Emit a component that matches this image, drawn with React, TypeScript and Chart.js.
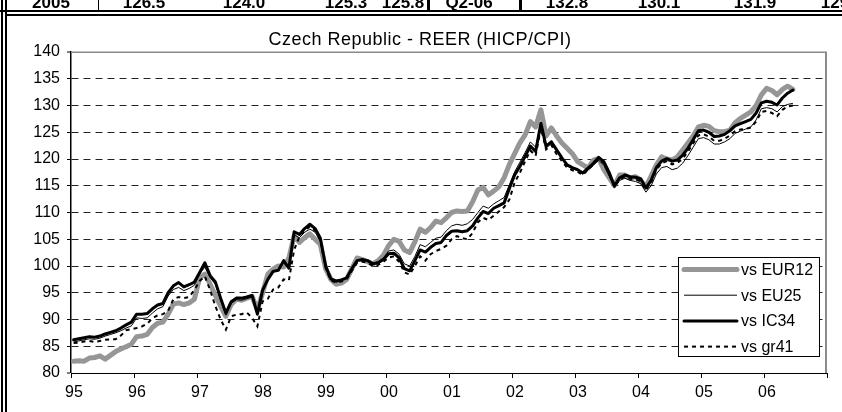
import React, { useEffect, useRef } from 'react';
import { Chart, registerables } from 'chart.js';

Chart.register(...registerables);

const FONT = "'Liberation Sans', Arial, sans-serif";

const TITLE = 'Czech Republic - REER (HICP/CPI)';
const YEAR_LABELS = ['95', '96', '97', '98', '99', '00', '01', '02', '03', '04', '05', '06'];
const SERIES_NAMES = ['vs EUR12', 'vs EU25', 'vs IC34', 'vs gr41'];

// header row of the table above the chart (partly cut off)
const TABLE_CELLS = ['2005', '126.5', '124.0', '125.3', '125.8', 'Q2-06', '132.8', '130.1', '131.9', '129.6'];
const TABLE_CENTERS = [51, 144, 244, 346, 403, 469, 567, 659, 755, 842];
const TABLE_SEPARATORS = [[98, 1], [427, 2.5], [519, 2.5]];

// monthly values, Jan 1995 .. Jun 2006
const EUR12 = [
  82.2, 82.3, 82.2, 82.8, 82.9, 83.2, 82.6, 83.3, 84.0, 84.5, 84.9, 85.4,
  86.8, 86.9, 87.2, 88.5, 89.3, 89.5, 91.0, 92.9, 93.1, 92.8, 93.1, 93.8,
  97.8, 98.5, 96.6, 94.5, 92.5, 90.6, 92.8, 93.8, 93.6, 94.0, 94.3, 91.8,
  95.0, 98.5, 99.4, 100.0, 99.8, 101.5, 105.6, 104.4, 105.3, 106.0, 105.0, 104.0,
  99.5, 97.5, 96.6, 96.8, 97.5, 99.5, 101.5, 101.2, 100.8, 100.4, 101.0, 102.0,
  103.8, 105.0, 104.6, 103.0, 102.5, 104.5, 106.9, 106.3, 107.2, 108.4, 108.1, 109.0,
  110.0, 110.3, 110.2, 110.3, 112.0, 114.2, 114.7, 113.3, 114.0, 114.8, 116.5, 119.0,
  121.0, 123.0, 124.5, 127.0, 126.0, 129.2, 124.3, 125.8, 124.3, 123.0, 122.0, 121.0,
  119.5, 118.9, 118.3, 119.8, 120.1, 118.0, 116.5, 115.0, 117.0, 117.0, 116.4, 116.7,
  116.0, 114.8, 116.8, 118.9, 120.4, 120.0, 119.8, 120.4, 121.7, 123.0, 124.3, 126.0,
  126.3, 126.1, 125.3, 125.1, 125.1, 125.4, 126.8, 127.6, 128.2, 128.8, 130.0, 132.0,
  133.2, 132.8, 132.0, 133.0, 133.6, 133.0,
];

const EU25 = [
  85.8, 86.0, 86.2, 86.4, 86.3, 86.5, 86.9, 87.2, 87.5, 87.9, 88.4, 88.8,
  90.3, 90.2, 90.3, 91.2, 92.0, 92.4, 94.4, 95.6, 96.0, 95.4, 95.8, 96.4,
  98.5, 99.8, 97.8, 96.6, 93.6, 90.8, 93.0, 93.7, 93.6, 93.9, 94.2, 90.8,
  95.2, 97.5, 98.8, 99.2, 100.6, 99.4, 105.8, 105.3, 106.3, 106.9, 106.3, 104.6,
  99.6, 97.4, 97.0, 97.3, 97.8, 99.5, 101.0, 101.2, 101.0, 100.5, 100.8, 101.5,
  102.8, 103.0, 102.2, 100.4, 100.0, 101.8, 104.0, 103.6, 104.4, 105.2, 105.4, 106.6,
  107.5, 107.8, 107.6, 107.9, 108.7, 110.0, 111.2, 110.8, 111.6, 112.2, 112.8, 115.2,
  117.6, 119.4, 121.2, 123.2, 122.2, 126.6, 122.6, 123.4, 121.8, 120.2, 118.7, 118.2,
  117.8, 117.2, 118.0, 118.8, 119.8, 118.8, 116.8, 114.6, 116.0, 116.4, 116.0, 115.8,
  115.4, 113.8, 115.0, 117.2, 118.4, 118.6, 118.0, 118.3, 119.2, 120.6, 122.2, 123.8,
  124.0, 123.6, 122.8, 122.8, 123.2, 123.8, 124.8, 125.2, 125.6, 126.0, 127.3, 129.4,
  129.6, 129.4, 128.8, 129.8, 130.2, 130.4,
];

const IC34 = [
  86.2, 86.4, 86.6, 86.8, 86.7, 86.9, 87.3, 87.6, 87.9, 88.4, 89.0, 89.5,
  91.0, 91.0, 91.1, 92.0, 92.7, 93.0, 95.0, 96.3, 96.9, 96.1, 96.5, 97.0,
  98.8, 100.6, 98.2, 97.0, 94.0, 91.2, 93.3, 94.0, 94.0, 94.2, 94.5, 91.0,
  95.5, 97.5, 99.0, 99.2, 101.0, 99.6, 106.4, 105.9, 107.0, 107.8, 107.0, 105.2,
  100.0, 97.6, 97.2, 97.4, 97.8, 99.5, 101.0, 101.2, 101.0, 100.4, 100.6, 101.2,
  102.3, 102.4, 101.5, 99.5, 99.1, 101.0, 103.0, 102.6, 103.5, 104.2, 104.4, 105.7,
  106.5, 106.6, 106.4, 106.6, 107.5, 109.0, 110.2, 109.8, 110.8, 111.3, 111.8, 114.5,
  117.0, 118.6, 120.5, 122.4, 121.4, 126.7, 122.3, 123.2, 121.7, 120.2, 118.9, 118.4,
  118.0, 117.4, 118.3, 119.2, 120.3, 119.5, 117.5, 115.0, 116.5, 117.0, 116.7, 116.6,
  116.3, 114.6, 116.0, 118.4, 119.6, 120.1, 119.6, 119.8, 120.7, 122.0, 123.6, 125.3,
  125.4, 125.0, 124.2, 124.3, 124.6, 125.3, 126.2, 126.6, 127.0, 127.4, 128.6, 130.5,
  130.8, 130.6, 130.1, 131.4, 132.3, 132.9,
];

const GR41 = [
  85.6, 85.7, 85.9, 86.0, 85.8, 86.0, 86.2, 86.3, 86.3, 87.0, 88.0, 88.2,
  88.4, 88.7, 89.2, 90.2, 90.8, 91.0, 91.6, 93.8, 94.2, 94.0, 94.2, 95.5,
  97.2, 98.1, 95.5, 92.5, 90.0, 88.1, 90.6, 90.9, 91.0, 91.3, 90.3, 88.7,
  93.4, 93.9, 95.6, 96.0, 97.5, 97.3, 103.0, 105.5, 106.6, 107.4, 106.6, 104.8,
  99.6, 97.3, 96.9, 97.1, 97.5, 99.1, 100.6, 100.8, 100.6, 100.0, 100.2, 100.8,
  101.6, 101.8, 100.8, 98.8, 98.4, 100.0, 101.8, 101.0, 102.2, 102.8, 103.2, 103.8,
  105.0, 105.6, 105.2, 105.0, 106.2, 108.2, 109.0, 108.6, 109.4, 110.2, 111.0, 112.4,
  115.6, 117.4, 119.6, 121.6, 120.6, 125.8, 121.8, 122.6, 120.9, 119.6, 118.4, 117.9,
  117.6, 117.0, 118.0, 119.0, 120.0, 119.2, 117.2, 114.8, 116.2, 116.7, 116.3, 116.2,
  115.8, 114.2, 115.6, 118.0, 119.2, 119.6, 119.0, 119.3, 120.0, 121.4, 122.9, 124.4,
  124.6, 124.2, 123.4, 123.4, 123.8, 124.4, 125.2, 125.5, 125.6, 125.9, 127.0, 128.8,
  129.0, 128.6, 128.0, 129.2, 129.8, 130.0,
];

const toPoints = (arr: number[]) => arr.map((v, i) => ({ x: i + 0.5, y: v }));

const decorPlugin = {
  id: 'decor',
  beforeDatasetsDraw(chart: any) {
    const { ctx, chartArea: a } = chart;
    ctx.save();
    ctx.strokeStyle = '#8a8a8a';
    ctx.lineWidth = 1.5;
    ctx.beginPath();
    ctx.moveTo(a.left, a.top + 0.25);
    ctx.lineTo(a.right, a.top + 0.25);
    ctx.stroke();
    ctx.lineWidth = 2;
    ctx.beginPath();
    ctx.moveTo(a.right - 1, a.top);
    ctx.lineTo(a.right - 1, a.bottom);
    ctx.stroke();
    ctx.restore();
  },
  afterDraw(chart: any) {
    const { ctx, chartArea: a } = chart;
    ctx.save();
    // title
    ctx.fillStyle = '#000';
    ctx.font = `18px ${FONT}`;
    try { (ctx as any).letterSpacing = '0.5px'; } catch (e) { /* ignore */ }
    ctx.textAlign = 'center';
    ctx.textBaseline = 'alphabetic';
    ctx.fillText(TITLE, 420, a.top - 7);
    try { (ctx as any).letterSpacing = '0px'; } catch (e) { /* ignore */ }

    // legend box
    const w = 142, h = 100;
    const x0 = a.right - 7 - w;
    const y0 = a.bottom - 16 - h;
    ctx.fillStyle = '#fff';
    ctx.fillRect(x0, y0, w, h);
    ctx.strokeStyle = '#000';
    ctx.lineWidth = 1;
    ctx.strokeRect(x0 + 0.5, y0 + 0.5, w - 1, h - 1);
    chart.data.datasets.forEach((ds: any, i: number) => {
      const yy = y0 + 12.5 + i * 25.7;
      ctx.save();
      ctx.strokeStyle = ds.borderColor;
      ctx.lineWidth = ds.borderWidth;
      ctx.lineCap = ds.borderWidth >= 3 ? 'round' : 'butt';
      ctx.setLineDash(ds.borderDash || []);
      ctx.beginPath();
      ctx.moveTo(x0 + 6, yy);
      ctx.lineTo(x0 + 59, yy);
      ctx.stroke();
      ctx.restore();
      ctx.fillStyle = '#000';
      ctx.font = `16px ${FONT}`;
      ctx.textAlign = 'left';
      ctx.textBaseline = 'middle';
      ctx.fillText(ds.label, x0 + 63, yy + 1);
    });
    ctx.restore();
  },
};

export default function App() {
  const ref = useRef<HTMLCanvasElement | null>(null);

  useEffect(() => {
    if (!ref.current) return;
    const chart = new Chart(ref.current, {
      type: 'line',
      data: {
        datasets: [
          {
            label: SERIES_NAMES[0], data: toPoints(EUR12), borderColor: '#969696', borderWidth: 5,
            pointRadius: 0, order: 4, borderCapStyle: 'round', borderJoinStyle: 'round', tension: 0,
          },
          {
            label: SERIES_NAMES[1], data: toPoints(EU25), borderColor: '#000000', borderWidth: 1,
            pointRadius: 0, order: 3, tension: 0,
          },
          {
            label: SERIES_NAMES[2], data: toPoints(IC34), borderColor: '#000000', borderWidth: 3,
            pointRadius: 0, order: 2, borderCapStyle: 'round', borderJoinStyle: 'round', tension: 0,
          },
          {
            label: SERIES_NAMES[3], data: toPoints(GR41), borderColor: '#000000', borderWidth: 2,
            borderDash: [4, 4], pointRadius: 0, order: 1, tension: 0,
          },
        ] as any,
      },
      options: {
        animation: false,
        responsive: false,
        maintainAspectRatio: false,
        events: [],
        layout: { padding: { left: 0, right: 15, top: 52, bottom: 0 } },
        plugins: { legend: { display: false }, title: { display: false }, tooltip: { enabled: false } },
        scales: {
          x: {
            type: 'linear',
            min: 0,
            max: 144,
            afterFit: (s: any) => { s.height = 39; },
            ticks: {
              stepSize: 12,
              autoSkip: false,
              maxRotation: 0,
              labelOffset: 3,
              padding: 5,
              color: '#000',
              font: { family: FONT, size: 16 },
              callback: (v: any) => {
                const idx = Math.round(Number(v) / 12);
                return YEAR_LABELS[idx] ?? '';
              },
            },
            grid: { drawOnChartArea: false, drawTicks: true, tickLength: 5, tickColor: '#000', tickWidth: 1, color: '#000' },
            border: { display: true, color: '#000', width: 1 },
          },
          y: {
            min: 80,
            max: 140,
            afterFit: (s: any) => { s.width = 71; },
            ticks: { stepSize: 5, padding: 7, color: '#000', font: { family: FONT, size: 16 } },
            grid: {
              color: '#222',
              lineWidth: (c: any) => (c.tick && (c.tick.value === 140 || c.tick.value === 80) ? 0 : 1),
              tickLength: 4,
              tickWidth: 1,
              tickColor: '#000',
            },
            border: { display: true, color: '#000', width: 1.5, dash: [7, 5] },
          },
        },
      } as any,
      plugins: [decorPlugin],
    });
    return () => chart.destroy();
  }, []);

  return (
    <div style={{ position: 'absolute', left: 0, top: 0, width: 842, height: 412, background: '#fff', overflow: 'hidden' }}>
      <canvas ref={ref} width={842} height={412} style={{ position: 'absolute', left: 0, top: 0, display: 'block' }} />
      {TABLE_CELLS.map((t, i) => (
        <div
          key={i}
          style={{
            position: 'absolute', left: TABLE_CENTERS[i], top: -5, transform: 'translateX(-50%)',
            fontFamily: FONT, fontWeight: 'bold', fontSize: 17, lineHeight: '16px', whiteSpace: 'nowrap', color: '#000',
          }}
        >
          {t}
        </div>
      ))}
      {TABLE_SEPARATORS.map(([x, w], i) => (
        <div key={'s' + i} style={{ position: 'absolute', left: x, top: 0, width: w, height: 11, background: '#000' }} />
      ))}
      <div style={{ position: 'absolute', left: 0, top: 10, width: 842, height: 2, background: '#000' }} />
      <div style={{ position: 'absolute', left: 5, top: 14, width: 837, height: 2, background: '#000' }} />
      <div style={{ position: 'absolute', left: 1, top: 0, width: 2, height: 412, background: '#000' }} />
      <div style={{ position: 'absolute', left: 5, top: 0, width: 2, height: 412, background: '#000' }} />
    </div>
  );
}
